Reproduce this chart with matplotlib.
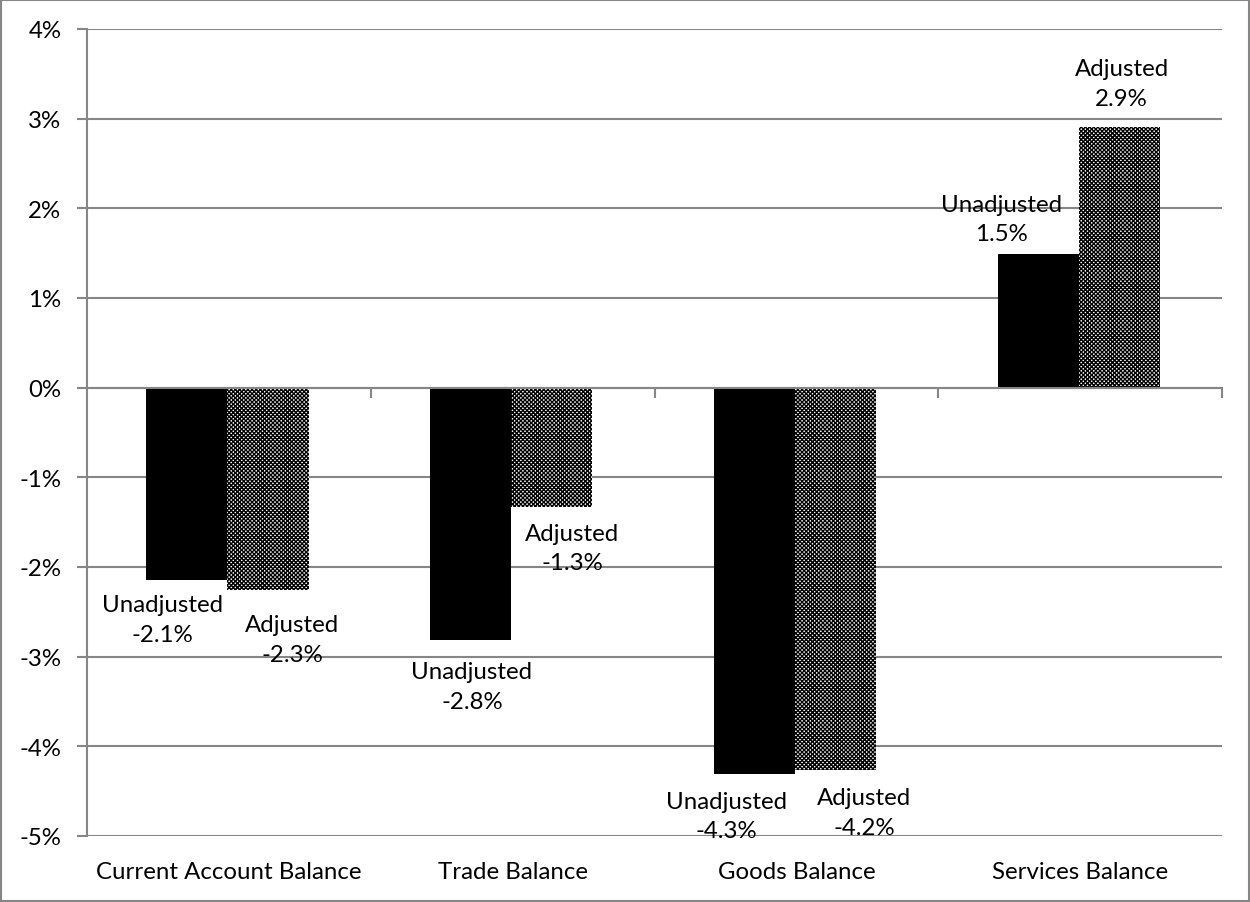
import matplotlib
matplotlib.use("Agg")
import matplotlib.pyplot as plt
from matplotlib.patches import Rectangle
import numpy as np

categories = ["Current Account Balance", "Trade Balance", "Goods Balance", "Services Balance"]
unadjusted = [-2.14, -2.81, -4.31, 1.49]
adjusted = [-2.26, -1.33, -4.26, 2.91]
unadj_labels = ["Unadjusted\n-2.1%", "Unadjusted\n-2.8%", "Unadjusted\n-4.3%", "Unadjusted\n1.5%"]
adj_labels = ["Adjusted\n-2.3%", "Adjusted\n-1.3%", "Adjusted\n-4.2%", "Adjusted\n2.9%"]
yticks = [-5, -4, -3, -2, -1, 0, 1, 2, 3, 4]
ytick_labels = ["-5%", "-4%", "-3%", "-2%", "-1%", "0%", "1%", "2%", "3%", "4%"]

# label offsets in pixels (x, y) from bar end
unadj_off = [(-26, -40), (0, -47), (-29, -42), (-38, 35)]
adj_off = [(23, -49), (19, -41), (27, -43), (1, 43)]

plt.rcParams['font.family'] = ['Lato', 'DejaVu Sans']
plt.rcParams['hatch.linewidth'] = 1.0
FS = 17.3
GRAY = "#868686"

fig = plt.figure(figsize=(12.5, 9.03), dpi=100)
ax = fig.add_axes([87/1250, 1-837/903, (1222-87)/1250, (837-30)/903])

x = np.arange(len(categories))
w = 0.286
b1 = ax.bar(x - w/2 - 0.005, unadjusted, w, color="black", zorder=3)
b2 = ax.bar(x + w/2 - 0.005, adjusted, w, color="white", edgecolor="black", hatch="xxxxxxxx",
            linewidth=0, zorder=3)

ax.set_xlim(-0.5, 3.5)
ax.set_ylim(-5, 4)
ax.set_yticks(yticks)
ax.set_yticklabels(ytick_labels, fontsize=FS)
ax.yaxis.grid(True, color=GRAY, linewidth=1.5, zorder=0)
ax.tick_params(axis='y', length=7.5, width=1.5, color=GRAY, pad=11)

for s in ['top', 'right']:
    ax.spines[s].set_visible(False)
ax.spines['left'].set_color(GRAY)
ax.spines['left'].set_linewidth(1.5)
ax.spines['bottom'].set_position(('data', 0))
ax.spines['bottom'].set_color(GRAY)
ax.spines['bottom'].set_linewidth(1.5)
ax.spines['bottom'].set_zorder(4)
ax.set_xticks([0.5, 1.5, 2.5, 3.5])
ax.set_xticklabels([])
ax.tick_params(axis='x', length=7, width=1.5, color=GRAY, direction='out')

for i, c in enumerate(categories):
    ax.annotate(c, xy=(i, -5), xytext=(0, -36), textcoords='offset pixels',
                ha='center', va='center', fontsize=FS)

for i in range(len(categories)):
    ax.annotate(unadj_labels[i], xy=(x[i] - w/2, unadjusted[i]), xytext=unadj_off[i],
                textcoords='offset pixels', ha='center', va='center', fontsize=FS,
                linespacing=1.5, zorder=5)
    ax.annotate(adj_labels[i], xy=(x[i] + w/2, adjusted[i]), xytext=adj_off[i],
                textcoords='offset pixels', ha='center', va='center', fontsize=FS,
                linespacing=1.5, zorder=5)

fig.patches.append(Rectangle((0.0008, 0.001), 0.9984, 0.998, transform=fig.transFigure,
                             fill=False, edgecolor=GRAY, linewidth=1.5))

fig.savefig("out.png", dpi=100)
